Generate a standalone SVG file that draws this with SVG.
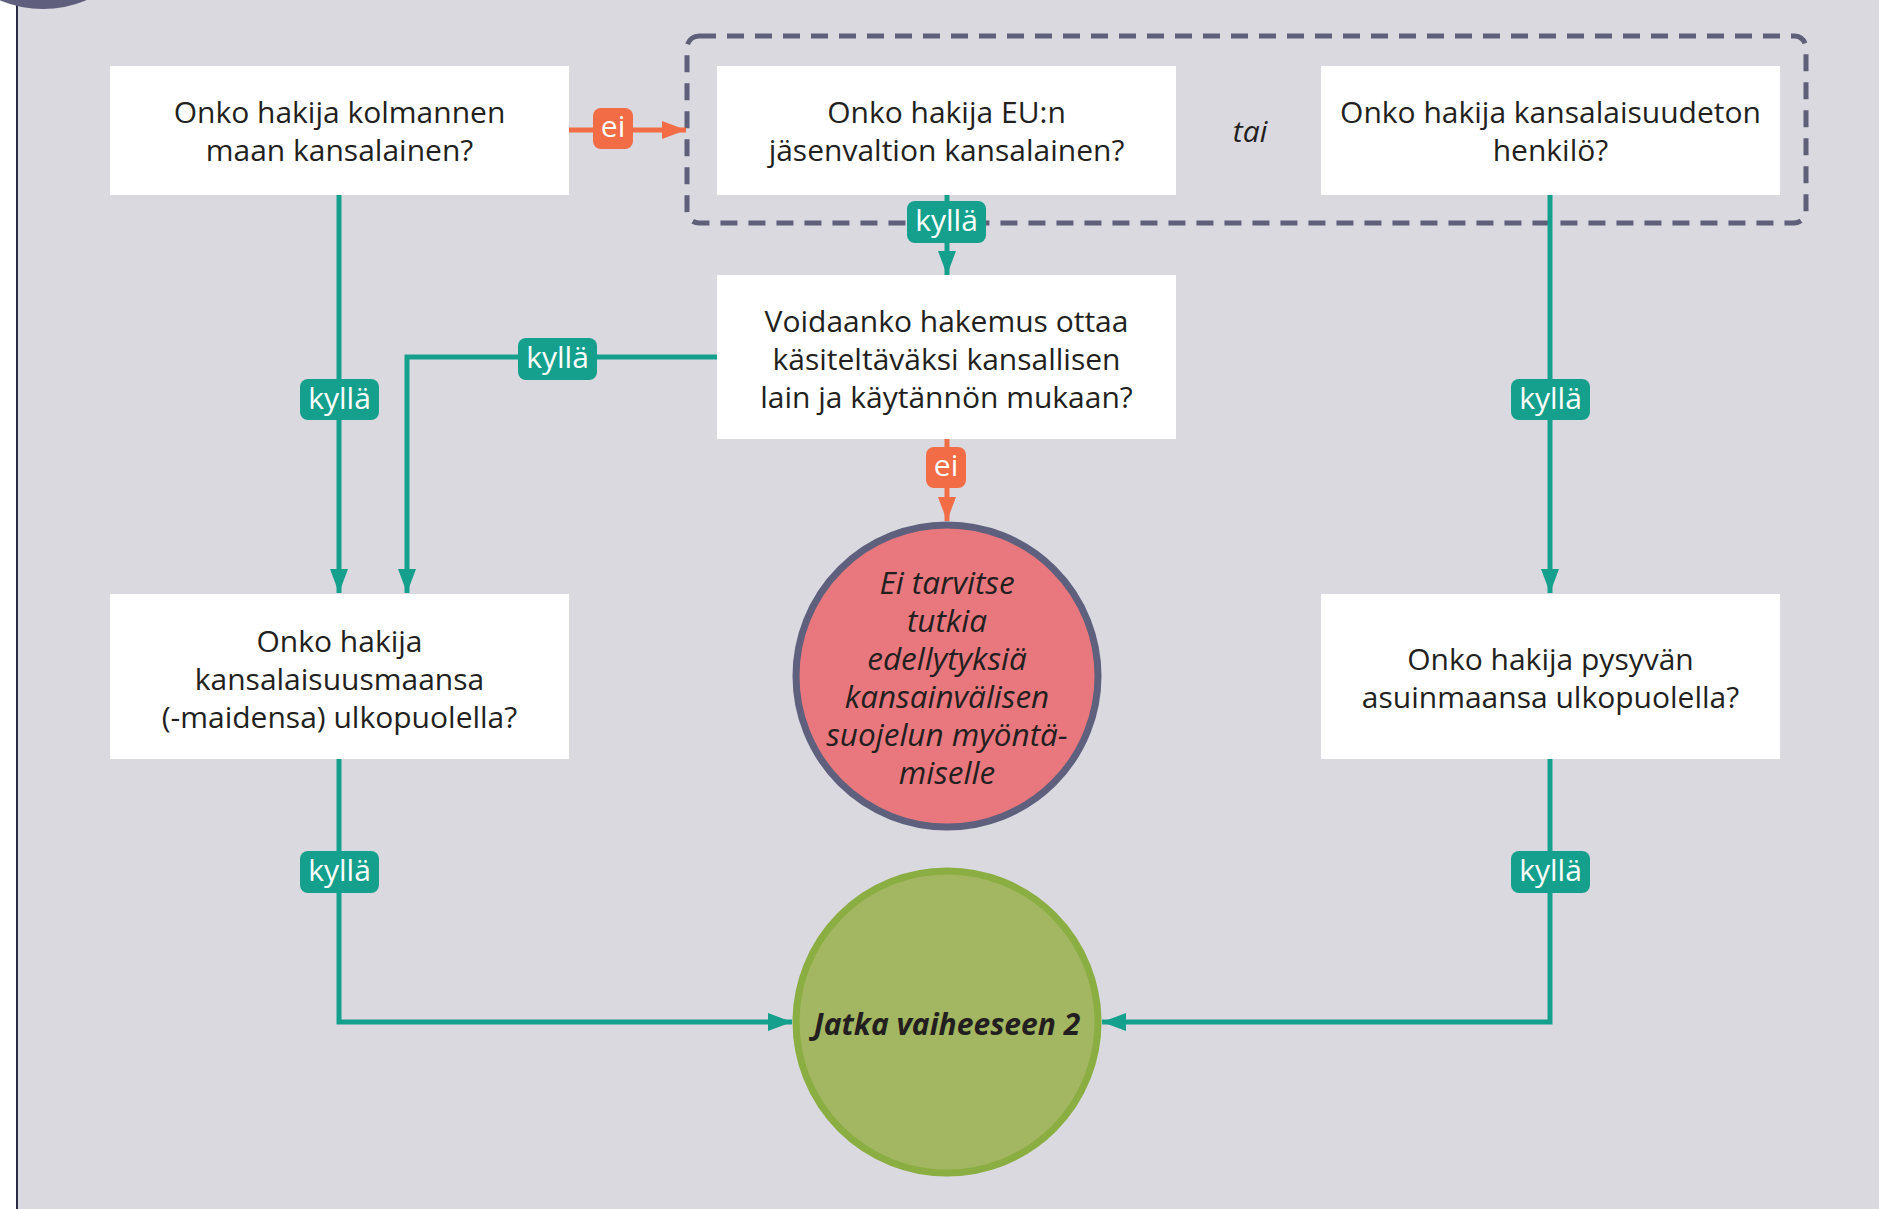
<svg xmlns="http://www.w3.org/2000/svg" width="1879" height="1209" viewBox="0 0 1879 1209">
<defs>
<style>
.box{fill:#ffffff}
.t{font-family:"Open Sans","DejaVu Sans",sans-serif;font-size:30px;fill:#231f20;text-anchor:middle}
.it{font-style:italic}
.ci{font-size:31.5px}
.lbl{font-family:"Open Sans","DejaVu Sans",sans-serif;font-size:30px;fill:#ffffff;text-anchor:middle}
.teal{fill:none;stroke:#14a08c;stroke-width:5}
.orange{fill:none;stroke:#f26c45;stroke-width:5}
.kb{fill:#14a08c}
.eb{fill:#f26c45}
</style>
<marker id="at" markerUnits="userSpaceOnUse" markerWidth="24" markerHeight="18" refX="24" refY="9" orient="auto">
<path d="M0,0 L24,9 L0,18 z" fill="#14a08c"/>
</marker>
<marker id="ao" markerUnits="userSpaceOnUse" markerWidth="24" markerHeight="18" refX="24" refY="9" orient="auto">
<path d="M0,0 L24,9 L0,18 z" fill="#f26c45"/>
</marker>
</defs>
<rect x="0" y="0" width="1879" height="1209" fill="#ffffff"/>
<rect x="17" y="0" width="1862" height="1209" fill="#dad9e0"/>
<line x1="17" y1="0" x2="17" y2="1209" stroke="#2b2b45" stroke-width="2"/>
<circle cx="43" cy="-101" r="110" fill="#5f5f7d"/>

<g id="group-dashed">
<rect x="687" y="36" width="1119" height="187" rx="12" fill="none" stroke="#5f5f7a" stroke-width="5" stroke-dasharray="17 11"/>
<text class="t it" x="1250" y="142">tai</text>
</g>

<g id="connectors">
<path class="teal" d="M339,195 V593" marker-end="url(#at)"/>
<path class="teal" d="M717,357 H407 V593" marker-end="url(#at)"/>
<path class="teal" d="M947,195 V275" marker-end="url(#at)"/>
<path class="teal" d="M1550,195 V593" marker-end="url(#at)"/>
<path class="teal" d="M339,757 V1022 H792" marker-end="url(#at)"/>
<path class="teal" d="M1550,757 V1022 H1102" marker-end="url(#at)"/>
<path class="orange" d="M569,130 H686" marker-end="url(#ao)"/>
<path class="orange" d="M947,439 V521" marker-end="url(#ao)"/>
<g id="labels">
<rect class="kb" x="300" y="379" width="79" height="41" rx="8"/><text class="lbl" x="339.5" y="409">kyllä</text>
<rect class="kb" x="518" y="338" width="79" height="42" rx="8"/><text class="lbl" x="557.5" y="368">kyllä</text>
<rect class="kb" x="907" y="201" width="79" height="42" rx="8"/><text class="lbl" x="946.5" y="231">kyllä</text>
<rect class="kb" x="1511" y="379" width="79" height="41" rx="8"/><text class="lbl" x="1550.5" y="409">kyllä</text>
<rect class="kb" x="300" y="851" width="79" height="42" rx="8"/><text class="lbl" x="339.5" y="881">kyllä</text>
<rect class="kb" x="1511" y="851" width="79" height="42" rx="8"/><text class="lbl" x="1550.5" y="881">kyllä</text>
<rect class="eb" x="593" y="108" width="40" height="41" rx="8"/><text class="lbl" x="613" y="137">ei</text>
<rect class="eb" x="926" y="447" width="40" height="41" rx="8"/><text class="lbl" x="946" y="476">ei</text>
</g>
</g>

<g id="node-kolmannen">
<rect class="box" x="110" y="66" width="459" height="129"/>
<text class="t" x="339.5" y="123">Onko hakija kolmannen</text>
<text class="t" x="339.5" y="161">maan kansalainen?</text>
</g>
<g id="node-eu">
<rect class="box" x="717" y="66" width="459" height="129"/>
<text class="t" x="946.5" y="123">Onko hakija EU:n</text>
<text class="t" x="946.5" y="161">jäsenvaltion kansalainen?</text>
</g>
<g id="node-kansalaisuudeton">
<rect class="box" x="1321" y="66" width="459" height="129"/>
<text class="t" x="1550.5" y="123">Onko hakija kansalaisuudeton</text>
<text class="t" x="1550.5" y="161">henkilö?</text>
</g>
<g id="node-voidaanko">
<rect class="box" x="717" y="275" width="459" height="164"/>
<text class="t" x="946.5" y="332">Voidaanko hakemus ottaa</text>
<text class="t" x="946.5" y="370">käsiteltäväksi kansallisen</text>
<text class="t" x="946.5" y="408">lain ja käytännön mukaan?</text>
</g>
<g id="node-kansalaisuusmaa">
<rect class="box" x="110" y="594" width="459" height="165"/>
<text class="t" x="339.5" y="652">Onko hakija</text>
<text class="t" x="339.5" y="690">kansalaisuusmaansa</text>
<text class="t" x="339.5" y="728">(-maidensa) ulkopuolella?</text>
</g>
<g id="node-asuinmaa">
<rect class="box" x="1321" y="594" width="459" height="165"/>
<text class="t" x="1550.5" y="670">Onko hakija pysyvän</text>
<text class="t" x="1550.5" y="708">asuinmaansa ulkopuolella?</text>
</g>
<g id="node-ei-tarvitse">
<circle cx="947" cy="676" r="151" fill="#e8787d" stroke="#5f607d" stroke-width="7"/>
<text class="t it ci" x="947" y="594">Ei tarvitse</text>
<text class="t it ci" x="947" y="632">tutkia</text>
<text class="t it ci" x="947" y="670">edellytyksiä</text>
<text class="t it ci" x="947" y="708">kansainvälisen</text>
<text class="t it ci" x="947" y="746">suojelun myöntä-</text>
<text class="t it ci" x="947" y="784">miselle</text>
</g>
<g id="node-jatka">
<circle cx="947" cy="1022" r="151" fill="#a3b661" stroke="#8aae42" stroke-width="7"/>
<text class="t it" x="947" y="1035" font-weight="bold">Jatka vaiheeseen 2</text>
</g>
</svg>
